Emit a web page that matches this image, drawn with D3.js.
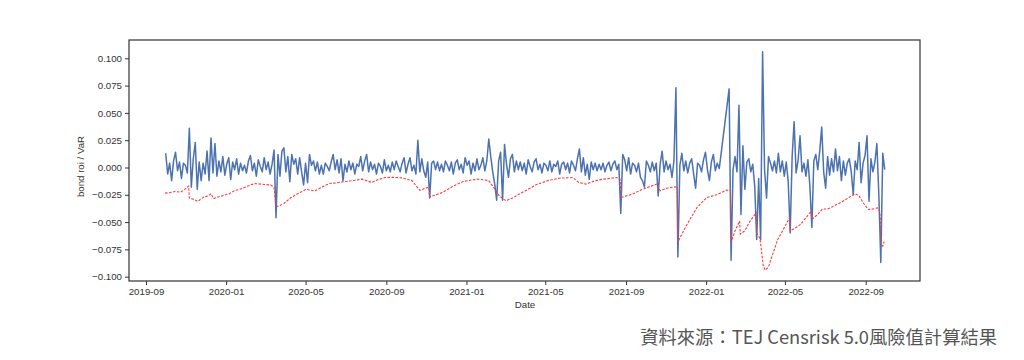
<!DOCTYPE html>
<html><head><meta charset="utf-8">
<script src="https://cdn.jsdelivr.net/npm/d3@7"></script>
<style>body{margin:0;background:#fff}</style>
</head><body>
<svg id="c" width="1024" height="360"></svg>
<script>
// ---- data ----
const blueStart = "2019-10-01";   // first observation
const blueStepDays = 3;           // spacing of the listed observations
// null = no observation (line connects across)
const blueValues = [
 0.013,-0.006,0.004,-0.012,0.006,0.014,-0.003,0.005,-0.010,0.004,0.002,-0.005,0.036,-0.018,0.008,0.023,-0.020,0.005,-0.012,0.004,
 -0.006,0.015,-0.012,0.027,-0.005,0.022,-0.008,0.006,-0.004,0.010,-0.007,0.003,0.009,-0.011,0.005,-0.002,0.008,-0.006,0.004,-0.003,
 0.002,-0.005,0.006,0.011,-0.003,0.004,-0.008,0.007,0.001,-0.004,0.009,-0.002,0.005,-0.006,0.003,0.016,-0.046,0.012,-0.008,0.015,
 0.018,-0.004,0.010,-0.013,0.012,0.003,0.008,-0.006,0.009,-0.004,-0.016,0.004,-0.014,0.012,0.002,0.006,-0.003,0.005,-0.006,0.002,
 -0.006,0.004,0.001,-0.003,0.005,0.012,-0.002,0.007,-0.005,0.008,-0.012,0.003,-0.004,0.006,-0.002,0.004,-0.006,0.003,0.001,0.010,
 -0.003,0.006,0.012,-0.004,0.005,-0.002,0.003,-0.006,0.004,0.001,-0.005,0.007,-0.003,0.002,-0.004,0.005,-0.002,0.006,0.001,-0.004,
 0.004,0.009,-0.005,0.003,0.009,-0.003,0.002,-0.006,0.025,-0.004,0.008,-0.003,-0.009,0.005,-0.028,0.004,0.006,-0.002,0.005,-0.003,
 0.003,-0.004,0.006,0.002,-0.003,0.005,-0.006,0.004,0.007,-0.002,0.003,-0.005,0.009,0.002,0.006,-0.006,0.004,-0.003,0.008,-0.002,
 0.002,0.009,-0.003,0.006,0.026,0.010,-0.004,-0.015,-0.030,0.006,0.014,-0.030,0.021,0.003,-0.009,0.008,0.012,-0.004,0.006,-0.002,
 0.005,-0.003,0.004,-0.006,0.007,0.001,-0.004,0.005,0.008,-0.002,0.003,-0.005,0.004,0.002,-0.003,0.006,-0.004,0.003,0.001,0.006,
 -0.006,0.003,0.005,-0.002,0.004,-0.005,0.006,0.002,-0.003,0.008,0.017,-0.004,0.009,-0.007,0.003,-0.011,0.005,-0.002,0.004,-0.003,
 0.003,-0.002,0.004,-0.004,0.002,0.005,-0.003,0.003,0.006,-0.002,0.003,-0.042,0.012,0.007,-0.003,0.009,-0.006,0.004,0.002,-0.004,
 0.004,-0.009,-0.012,-0.018,0.006,0.002,-0.004,0.005,-0.003,0.004,-0.026,0.003,0.015,-0.004,0.006,-0.002,0.003,-0.009,0.006,0.073,
 -0.082,0.002,0.013,-0.003,0.006,-0.005,0.004,0.008,-0.006,-0.019,0.004,0.002,-0.004,0.007,0.014,-0.002,-0.012,0.005,0.012,-0.003,
 0.004,-0.001,null,null,null,null,0.072,-0.085,-0.002,0.010,-0.004,0.057,-0.043,0.020,-0.020,0.005,0.008,-0.004,0.003,-0.017,
 -0.066,-0.010,-0.066,0.106,-0.002,-0.028,0.010,0.004,-0.003,0.006,-0.005,0.013,-0.004,0.006,-0.008,0.005,-0.013,-0.060,0.010,0.042,
 -0.005,0.006,0.029,-0.004,0.004,-0.008,0.007,-0.017,-0.055,0.006,0.012,-0.002,0.015,0.037,-0.004,-0.019,0.010,-0.007,0.008,-0.004,
 0.017,-0.003,0.010,-0.012,0.006,-0.007,0.004,0.008,-0.004,-0.025,0.006,-0.002,0.023,-0.014,0.004,0.011,0.029,-0.031,0.008,-0.004,
 0.005,0.022,-0.025,-0.087,0.013,-0.002
];
const redDates = [
 "2019-09-30","2019-10-08","2019-10-15","2019-10-24","2019-10-30","2019-11-05","2019-11-06","2019-11-12","2019-11-19","2019-11-28",
 "2019-12-05","2019-12-09","2019-12-13","2019-12-20","2019-12-26","2020-01-06","2020-01-14","2020-01-22","2020-01-30","2020-02-07",
 "2020-02-14","2020-02-28","2020-03-09","2020-03-14","2020-03-17","2020-03-22","2020-03-29","2020-04-09","2020-04-19","2020-05-02",
 "2020-05-15","2020-05-26","2020-06-06","2020-06-18","2020-06-30","2020-07-12","2020-07-26","2020-08-10","2020-08-20","2020-08-30",
 "2020-09-12","2020-09-25","2020-10-10","2020-10-18","2020-10-22","2020-10-30","2020-11-05","2020-11-06","2020-11-25","2020-12-10",
 "2020-12-27","2021-01-08","2021-01-20","2021-02-04","2021-02-15","2021-02-20","2021-03-02","2021-03-12","2021-03-22","2021-04-05",
 "2021-04-17","2021-05-05","2021-05-22","2021-06-12","2021-06-21","2021-07-02","2021-07-17","2021-07-28","2021-08-18","2021-08-23",
 "2021-08-24","2021-09-11","2021-09-22","2021-10-03","2021-10-18","2021-10-23","2021-11-02","2021-11-18","2021-11-19","2021-11-26",
 "2021-12-03","2021-12-18","2022-01-02","2022-01-17","2022-02-01","2022-02-07","2022-02-08","2022-02-14","2022-02-21","2022-02-22",
 "2022-03-01","2022-03-08","2022-03-18","2022-03-19","2022-03-24","2022-03-29","2022-04-01","2022-04-06","2022-04-12","2022-04-20",
 "2022-05-01","2022-05-08","2022-05-09","2022-05-18","2022-05-25","2022-06-06","2022-06-10","2022-06-11","2022-06-20","2022-06-27",
 "2022-07-05","2022-07-12","2022-07-25","2022-08-05","2022-08-16","2022-08-22","2022-08-29","2022-09-05","2022-09-12","2022-09-19",
 "2022-09-22","2022-09-23","2022-09-24","2022-09-27","2022-09-29"
];
const redValues = [
 -0.0235,-0.023,-0.022,-0.0225,-0.020,-0.017,-0.028,-0.029,-0.031,-0.027,
 -0.026,-0.024,-0.0285,-0.027,-0.026,-0.024,-0.021,-0.020,-0.018,-0.016,
 -0.0147,-0.0155,-0.016,-0.018,-0.036,-0.035,-0.033,-0.0275,-0.024,-0.020,
 -0.0215,-0.018,-0.0147,-0.014,-0.0128,-0.012,-0.0107,-0.0137,-0.011,-0.0092,
 -0.009,-0.0095,-0.012,-0.018,-0.021,-0.019,-0.018,-0.027,-0.023,-0.0177,
 -0.0128,-0.0115,-0.0107,-0.012,-0.0213,-0.026,-0.0305,-0.028,-0.0244,-0.020,
 -0.0158,-0.012,-0.0098,-0.0092,-0.0137,-0.0152,-0.012,-0.0107,-0.0092,-0.0107,
 -0.0275,-0.0244,-0.021,-0.0183,-0.0152,-0.0213,-0.019,-0.0175,-0.068,-0.060,
 -0.052,-0.0366,-0.0275,-0.025,-0.0207,-0.021,-0.0687,-0.058,-0.049,-0.061,
 -0.058,-0.050,-0.0415,-0.060,-0.065,-0.090,-0.094,-0.091,-0.080,-0.066,
 -0.054,-0.046,-0.058,-0.055,-0.052,-0.043,-0.040,-0.0476,-0.043,-0.038,
 -0.038,-0.036,-0.032,-0.028,-0.024,-0.026,-0.033,-0.0385,-0.038,-0.037,
 -0.040,-0.045,-0.069,-0.072,-0.068
];
const yTicks = [-0.100,-0.075,-0.050,-0.025,0.000,0.025,0.050,0.075,0.100];
const xTickLabels = ["2019-09","2020-01","2020-05","2020-09","2021-01","2021-05","2021-09","2022-01","2022-05","2022-09"];
const yLabel = "bond roi / VaR";
const xLabel = "Date";
const caption = "資料來源：TEJ Censrisk 5.0風險值計算結果";

// ---- drawing ----
const parse = d3.timeParse("%Y-%m-%d");
const parseM = d3.timeParse("%Y-%m");
const svg = d3.select("#c");
const frame = {l:129, r:920, t:40, b:281};

const x = d3.scaleTime()
  .domain([parse("2019-09-01"), parse("2022-09-01")])
  .range([146, 865.7]);
const y = d3.scaleLinear().domain([-0.1, 0.1]).range([276.7, 58.3]);

const s0 = parse(blueStart);
const blue = blueValues.map((v,i)=>({d:d3.timeDay.offset(s0, i*blueStepDays), v}))
  .filter(p=>p.v!==null);
const red = redDates.map((d,i)=>({d:parse(d), v:redValues[i]}));

const font = "'Liberation Sans', Arial, sans-serif";

// axes
const xAxis = d3.axisBottom(x).tickValues(xTickLabels.map(parseM))
  .tickFormat(d3.timeFormat("%Y-%m")).tickSize(4).tickPadding(3);
const gx = svg.append("g").attr("transform",`translate(0,${frame.b})`).call(xAxis);
const yAxis = d3.axisLeft(y).tickValues(yTicks).tickFormat(d3.format(".3f")).tickSize(4).tickPadding(3);
const gy = svg.append("g").attr("transform",`translate(${frame.l},0)`).call(yAxis);
[gx,gy].forEach(g=>{
  g.select(".domain").remove();
  g.selectAll(".tick line").attr("stroke","#333").attr("stroke-width",1);
  g.selectAll(".tick text").attr("fill","#333").style("font-family",font).style("font-size","9.7px");
});

const line = d3.line().x(p=>x(p.d)).y(p=>y(p.v));
svg.append("clipPath").attr("id","pc").append("rect")
  .attr("x",frame.l).attr("y",frame.t).attr("width",frame.r-frame.l).attr("height",frame.b-frame.t);
svg.append("path").datum(blue).attr("d",line).attr("fill","none")
  .attr("stroke","#4C72B0").attr("stroke-width",1.5).attr("stroke-linejoin","round").attr("clip-path","url(#pc)");
svg.append("path").datum(red).attr("d",line).attr("fill","none")
  .attr("stroke","#ff3a3a").attr("stroke-width",1.1).attr("stroke-dasharray","2.5,1.5").attr("clip-path","url(#pc)");

svg.append("rect").attr("x",frame.l).attr("y",frame.t)
  .attr("width",frame.r-frame.l).attr("height",frame.b-frame.t)
  .attr("fill","none").attr("stroke","#333").attr("stroke-width",1.2);

svg.append("text").attr("transform","translate(84,166.5) rotate(-90)")
  .attr("text-anchor","middle").attr("fill","#333")
  .style("font-family",font).style("font-size","9.7px").text(yLabel);
svg.append("text").attr("x",525).attr("y",308).attr("text-anchor","middle").attr("fill","#333")
  .style("font-family",font).style("font-size","9.7px").text(xLabel);

svg.append("text").attr("x",997).attr("y",344).attr("text-anchor","end").attr("fill","#555")
  .style("font-family","'Noto Sans CJK TC', sans-serif").style("font-size","18.3px").text(caption);
</script>
</body></html>
